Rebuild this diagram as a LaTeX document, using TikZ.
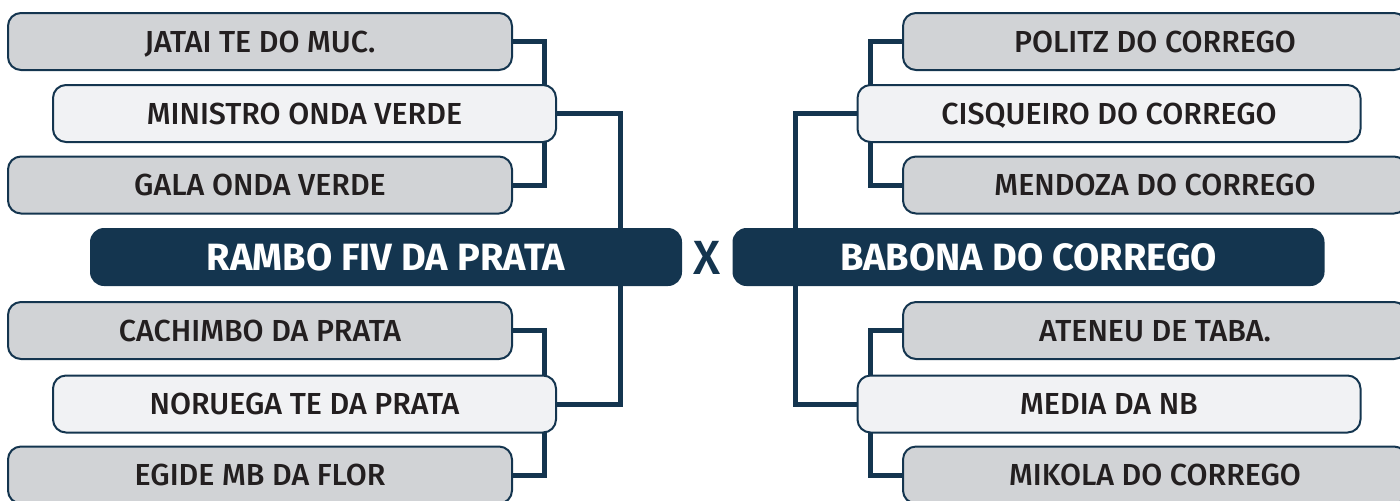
\documentclass[tikz,border=0pt]{standalone}
\usepackage{fontspec}
\setmainfont{Fira Sans}
\newfontfamily\condfont{Fira Sans}[UprightFont=* Medium, BoldFont=* Bold]
\usetikzlibrary{backgrounds}
\definecolor{navy}{RGB}{20,53,79}
\definecolor{grayfill}{RGB}{209,211,214}
\definecolor{lightfill}{RGB}{241,242,244}
\definecolor{txt}{RGB}{35,31,32}
\tikzset{
  team/.style={draw=navy, line width=1pt, rounded corners=6.5pt, minimum height=28.5pt,
    inner sep=0pt, text height=10.5pt, text depth=0pt, text=txt,
    font=\condfont\fontsize{15.2}{15.2}\selectfont},
  grayteam/.style={team, fill=grayfill, minimum width=252pt},
  lightteam/.style={team, fill=lightfill, minimum width=251.5pt},
  finalist/.style={fill=navy, rounded corners=7pt, minimum width=296pt, minimum height=29pt,
    inner sep=0pt, text height=13pt, text depth=0pt, text=white,
    font=\condfont\bfseries\fontsize{19}{19}\selectfont},
  link/.style={draw=navy, line width=2.5pt}
}
\begin{document}
\begin{tikzpicture}[x=0.5pt, y=-0.5pt]
\useasboundingbox (0,0) rectangle (1400,500);
% left side
\node[grayteam]  (jatai)    at (260,41.5)  {JATAI TE DO MUC.};
\node[lightteam] (ministro) at (304.5,113.5) {MINISTRO ONDA VERDE};
\node[grayteam]  (gala)     at (260,185)   {GALA ONDA VERDE};
\node[finalist]  (rambo)    at (386,257)   {RAMBO FIV DA PRATA};
\node[grayteam]  (cachimbo) at (260,330.5) {CACHIMBO DA PRATA};
\node[lightteam] (noruega)  at (304.5,404) {NORUEGA TE DA PRATA};
\node[grayteam]  (egide)    at (260,475)   {EGIDE MB DA FLOR};
% centre
\node[text=navy, inner sep=0pt, font=\condfont\fontsize{24}{24}\selectfont] (vs) at (707,258) {X};
% right side
\node[grayteam]  (politz)    at (1155,41.5)  {POLITZ DO CORREGO};
\node[lightteam] (cisqueiro) at (1109,113.5) {CISQUEIRO DO CORREGO};
\node[grayteam]  (mendoza)   at (1155,185)   {MENDOZA DO CORREGO};
\node[finalist]  (babona)    at (1028.5,257) {BABONA DO CORREGO};
\node[grayteam]  (ateneu)    at (1155,330.5) {ATENEU DE TABA.};
\node[lightteam] (media)     at (1109,404)   {MEDIA DA NB};
\node[grayteam]  (mikola)    at (1155,475)   {MIKOLA DO CORREGO};
\begin{scope}[on background layer]
\draw[link] (jatai.east) -- ++(31,0) |- (gala.east);
\draw[link] (ministro.east) -| ([xshift=-31pt]rambo.north east);
\draw[link] (cachimbo.east) -- ++(31,0) |- (egide.east);
\draw[link] (noruega.east) -| ([xshift=-31pt]rambo.south east);
\draw[link] (politz.west) -- ++(-32,0) |- (mendoza.west);
\draw[link] (cisqueiro.west) -| ([xshift=31.5pt]babona.north west);
\draw[link] (ateneu.west) -- ++(-32,0) |- (mikola.west);
\draw[link] (media.west) -| ([xshift=31.5pt]babona.south west);
\end{scope}
\end{tikzpicture}
\end{document}
